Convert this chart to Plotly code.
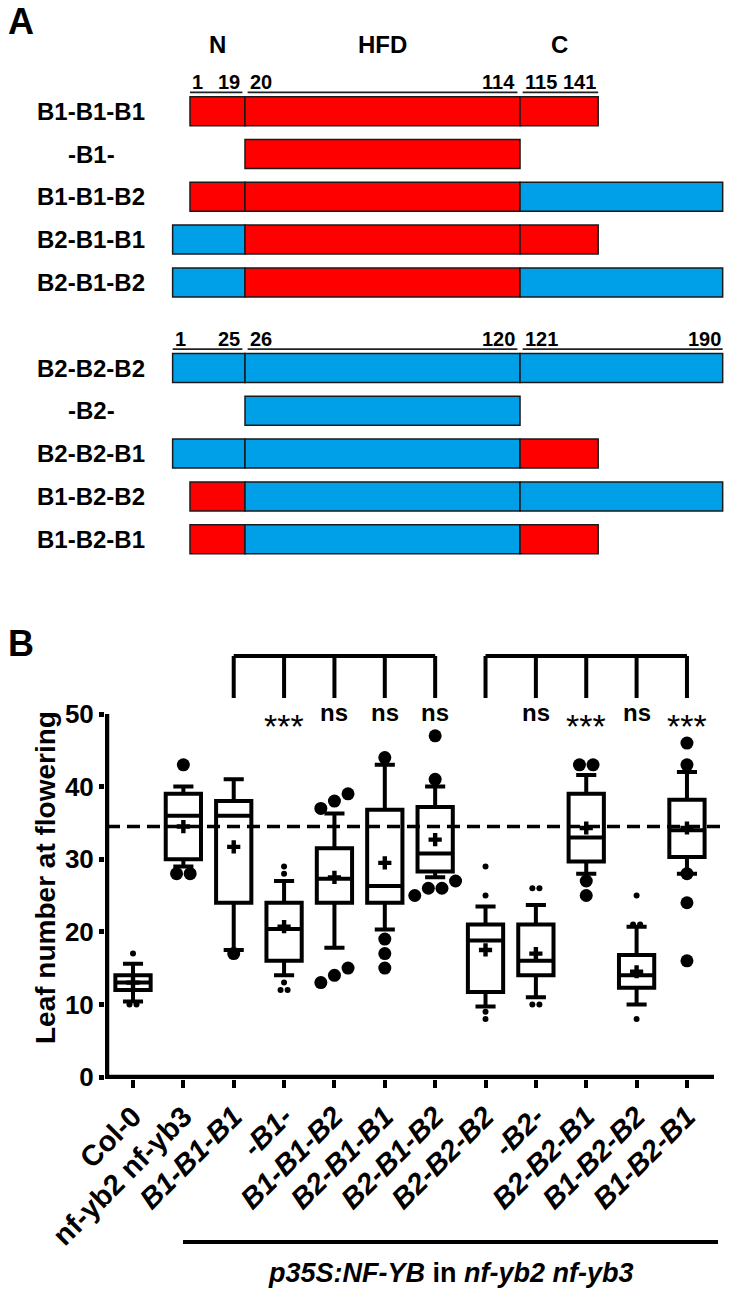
import plotly.graph_objects as go

# ---------------- Panel A data ----------------
domain_headers = ["N", "HFD", "C"]
b1_domains = {"N": (1, 19), "HFD": (20, 114), "C": (115, 141)}
b2_domains = {"N": (1, 25), "HFD": (26, 120), "C": (121, 190)}
constructs_group1 = ["B1-B1-B1", "-B1-", "B1-B1-B2", "B2-B1-B1", "B2-B1-B2"]
constructs_group2 = ["B2-B2-B2", "-B2-", "B2-B2-B1", "B1-B2-B2", "B1-B2-B1"]

# ---------------- Panel B data ----------------
genotypes = ["Col-0", "nf-yb2 nf-yb3", "B1-B1-B1", "-B1-", "B1-B1-B2", "B2-B1-B1",
             "B2-B1-B2", "B2-B2-B2", "-B2-", "B2-B2-B1", "B1-B2-B2", "B1-B2-B1"]
italic_label = [False, False, True, True, True, True, True, True, True, True, True, True]
q1 = [12, 30, 24, 16, 24, 24, 28.3, 11.7, 14, 29.7, 12.3, 30.3]
median = [13, 36, 36, 20.4, 27.3, 26.3, 30.8, 18.8, 16, 33, 14, 34]
q3 = [14, 39, 38, 24, 31.5, 36.8, 37.2, 21, 21, 39, 16.8, 38.2]
lower_whisker = [10.4, 29, 17.5, 14, 17.8, 20.3, 27.5, 9.7, 11, 28, 10, 28]
upper_whisker = [15.6, 40, 41, 27, 36.3, 43, 40, 23.5, 23.7, 41.6, 20.7, 42]
means = [13, 34.5, 31.7, 20.7, 27.5, 29.5, 32.7, 17.5, 17, 34.3, 14.5, 34.3]
outliers = [
    [17, 10, 10],
    [43, 28, 28],
    [17],
    [29, 28, 13, 12, 12],
    [39, 38, 37, 15, 14, 13],
    [44, 19, 17, 15],
    [47, 41, 27, 26, 26, 25],
    [29, 25, 9, 8],
    [26, 26, 10, 10],
    [43, 43, 27, 25],
    [25, 21, 21, 8],
    [46, 43, 28, 24, 16],
]
comparison_groups = [[2, 3, 4, 5, 6], [7, 8, 9, 10, 11]]
significance = [["", "***", "ns", "ns", "ns"], ["", "ns", "***", "ns", "***"]]
reference_genotype = 1
y_ticks = [0, 10, 20, 30, 40, 50]

# ---------------- styles ----------------
W, H = 733, 1293
FONT = "Liberation Sans, Arial, sans-serif"
RED, BLUE = "#FF0000", "#00A0E9"
big_dot = [False, True, True, False, True, True, True, False, False, True, False, True]

# ---------------- geometry ----------------
PL, PR, PT, PB = 105, 729, 0, 1079
plot_w, plot_h = PR - PL, PB - PT
x0_px, dx_px = 133, 50.36
y0_px, dy_px = 1077, 7.26
def bx(px): return (px - x0_px) / dx_px
def by(py): return (y0_px - py) / dy_px
def paper_x(px): return (px - PL) / plot_w
def paper_y(py): return (PB - py) / plot_h

yB_top = 60
xB_range = [bx(PL), bx(PR)]
yB_range = [by(PB), yB_top]
yB_domain = [0, paper_y(y0_px - yB_top * dy_px)]

hfd_px, res_px = 245, 2.895
row0_px, row_px = 111.2, 42.8
A_bottom = 570
xA_range = [(PL - hfd_px) / res_px, (PR - hfd_px) / res_px]
yA_range = [(A_bottom - row0_px) / row_px, (PT - row0_px) / row_px]
yA_domain = [paper_y(A_bottom), 1]
def arow(py): return (py - row0_px) / row_px

fig = go.Figure()
shapes, annotations = [], []

# ---------------- Panel A ----------------
fams = {"B1": b1_domains, "B2": b2_domains}
def dlen(fam, dom):
    a, b = fams[fam][dom]
    return b - a + 1

def domain_pos(fam, dom, hfd_len):
    L = dlen(fam, dom)
    base = {"N": -L, "HFD": 0, "C": hfd_len}[dom]
    return base, L

bar_y, bar_x, bar_base, bar_col = [], [], [], []
for g, group in enumerate([constructs_group1, constructs_group2]):
    for k, name in enumerate(group):
        row = g * 6 + k
        parts = name.split("-")
        hfd_len = dlen(parts[1], "HFD")
        for dom, src in zip(domain_headers, parts):
            if not src:
                continue
            base, L = domain_pos(src, dom, hfd_len)
            bar_y.append(row); bar_x.append(L); bar_base.append(base)
            bar_col.append(RED if src == "B1" else BLUE)
        annotations.append(dict(xref="paper", yref="y2", x=paper_x(91), y=row, text=f"<b>{name}</b>",
                                showarrow=False, xanchor="center", yanchor="middle",
                                font=dict(family=FONT, size=24, color="black")))
    fam = group[0].split("-")[0]
    hfd_len = dlen(fam, "HFD")
    top_row = g * 6
    uy = top_row - 0.44
    for dom in domain_headers:
        base, L = domain_pos(fam, dom, hfd_len)
        a, b = fams[fam][dom]
        gap_l = 0 if dom == "N" else 0.9
        gap_r = 0 if dom == "C" else 0.9
        shapes.append(dict(type="line", xref="x2", yref="y2", x0=base + gap_l, x1=base + L - gap_r,
                           y0=uy, y1=uy, line=dict(color="#222", width=1.6)))
        annotations.append(dict(xref="x2", yref="y2", x=base + gap_l, y=uy, text=f"<b>{a}</b>",
                                showarrow=False, xanchor="left", yanchor="bottom", yshift=-3,
                                font=dict(family=FONT, size=20, color="black")))
        annotations.append(dict(xref="x2", yref="y2", x=base + L - gap_r, y=uy, text=f"<b>{b}</b>",
                                showarrow=False, xanchor="right", yanchor="bottom", yshift=-3,
                                font=dict(family=FONT, size=20, color="black")))

hfd_len1 = dlen("B1", "HFD")
for dom in domain_headers:
    base, L = domain_pos("B1", dom, hfd_len1)
    annotations.append(dict(xref="x2", yref="y2", x=base + L / 2, y=arow(44.7), text=f"<b>{dom}</b>",
                            showarrow=False, xanchor="center", yanchor="middle",
                            font=dict(family=FONT, size=24, color="black")))

fig.add_trace(go.Bar(orientation="h", y=bar_y, x=bar_x, base=bar_base, width=0.678,
                     marker=dict(color=bar_col, line=dict(color="#1a1a1a", width=1.5)),
                     xaxis="x2", yaxis="y2", hoverinfo="skip", showlegend=False))

# ---------------- Panel B ----------------
xs = list(range(len(genotypes)))
fig.add_trace(go.Box(x=xs, q1=q1, median=median, q3=q3, lowerfence=lower_whisker,
                     upperfence=upper_whisker, boxpoints=False, width=0.7, whiskerwidth=0.57,
                     fillcolor="rgba(0,0,0,0)", line=dict(color="black", width=4),
                     hoverinfo="skip", showlegend=False))

def spread(values, sep, thresh):
    vals = sorted(values)
    clusters = []
    for v in vals:
        if clusters and v - clusters[-1][-1] <= thresh:
            clusters[-1].append(v)
        else:
            clusters.append([v])
    out = []
    for c in clusters:
        n = len(c)
        for k, v in enumerate(c):
            out.append(((k - (n - 1) / 2) * sep, v))
    return out

for big in (True, False):
    ox, oy = [], []
    for i, vals in enumerate(outliers):
        if big_dot[i] != big:
            continue
        for off, v in spread(vals, 0.27 if big else 0.14, 1.2 if big else 0.5):
            ox.append(i + off); oy.append(v)
    fig.add_trace(go.Scatter(x=ox, y=oy, mode="markers", hoverinfo="skip", showlegend=False,
                             marker=dict(symbol="circle", size=13 if big else 6, color="black",
                                         line=dict(width=0))))

fig.add_trace(go.Scatter(x=xs, y=means, mode="markers", hoverinfo="skip", showlegend=False,
                         marker=dict(symbol="cross", size=11, color="black", line=dict(width=0))))

xa = bx(107)
xe = bx(714)
shapes.append(dict(type="path", xref="x", yref="y",
                   path=f"M {xa},{y_ticks[-1]} L {xa},0 L {xe},0",
                   line=dict(color="black", width=4.5)))
shapes.append(dict(type="line", xref="x", yref="y", x0=xa, x1=bx(727),
                   y0=means[reference_genotype], y1=means[reference_genotype],
                   line=dict(color="black", width=3.5, dash="13px,7px")))
br_top, br_bot = by(656), by(698)
for grp, sig in zip(comparison_groups, significance):
    shapes.append(dict(type="line", xref="x", yref="y", x0=grp[0], x1=grp[-1], y0=br_top, y1=br_top,
                       line=dict(color="black", width=4)))
    for gi, s in zip(grp, sig):
        shapes.append(dict(type="line", xref="x", yref="y", x0=gi, x1=gi, y0=br_top, y1=br_bot,
                           line=dict(color="black", width=4)))
        if s == "ns":
            annotations.append(dict(xref="x", yref="y", x=gi, y=by(712.9), text="<b>ns</b>",
                                    showarrow=False, xanchor="center", yanchor="middle",
                                    font=dict(family=FONT, size=24, color="black")))
        elif s:
            annotations.append(dict(xref="x", yref="y", x=gi, y=by(726), text=s,
                                    showarrow=False, xanchor="center", yanchor="middle",
                                    font=dict(family=FONT, size=34, color="black")))

shapes.append(dict(type="line", xref="paper", yref="paper", x0=paper_x(183), x1=paper_x(718),
                   y0=paper_y(1242), y1=paper_y(1242), line=dict(color="black", width=4)))
annotations.append(dict(xref="paper", yref="paper", x=paper_x(451), y=paper_y(1273),
                        text="<b><i>p35S:NF-YB</i> in <i>nf-yb2 nf-yb3</i></b>", showarrow=False,
                        xanchor="center", yanchor="middle",
                        font=dict(family=FONT, size=27, color="black")))
annotations.append(dict(xref="paper", yref="paper", x=paper_x(45), y=paper_y(878),
                        text="<b>Leaf number at flowering</b>", textangle=-90, showarrow=False,
                        xanchor="center", yanchor="middle",
                        font=dict(family=FONT, size=28, color="black")))
for letter, px, py in (("A", 21, 21), ("B", 21, 643)):
    annotations.append(dict(xref="paper", yref="paper", x=paper_x(px), y=paper_y(py),
                            text=f"<b>{letter}</b>", showarrow=False, xanchor="center",
                            yanchor="middle", font=dict(family=FONT, size=36, color="black")))

ticktext = [f"<i>{g}</i>" if it else g for g, it in zip(genotypes, italic_label)]

fig.update_layout(
    width=W, height=H, paper_bgcolor="white", plot_bgcolor="white",
    margin=dict(l=PL, r=W - PR, t=PT, b=H - PB, pad=0),
    barmode="overlay", showlegend=False,
    font=dict(family=FONT, color="black"),
    xaxis=dict(range=xB_range, tickvals=xs, ticktext=ticktext, tickangle=-45,
               ticks="outside", ticklen=8, tickwidth=4, tickcolor="black",
               tickfont=dict(family=FONT, size=29, color="black", weight="bold"),
               showgrid=False, zeroline=False, showline=False, anchor="y"),
    yaxis=dict(range=yB_range, domain=yB_domain, tickvals=y_ticks, ticks="outside",
               ticklen=5, tickwidth=4.5, tickcolor="black",
               tickfont=dict(family=FONT, size=26, color="black", weight="bold"),
               showgrid=False, zeroline=False, showline=False, anchor="x"),
    xaxis2=dict(range=xA_range, visible=False, anchor="y2"),
    yaxis2=dict(range=yA_range, domain=yA_domain, visible=False, anchor="x2"),
    shapes=shapes, annotations=annotations,
)

fig.write_html("out.html", config={"displayModeBar": False},
               post_script="document.body.style.margin='0px';document.body.style.overflow='hidden';")
